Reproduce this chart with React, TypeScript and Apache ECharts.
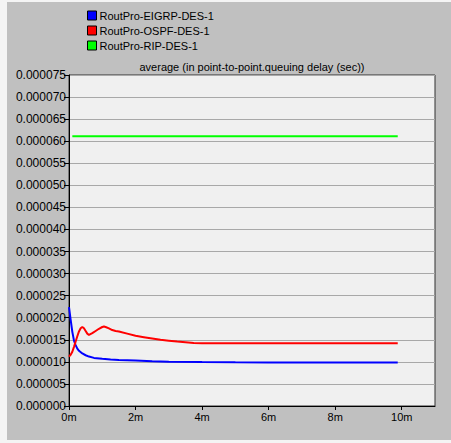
import React, { useEffect, useRef } from "react";
import * as echarts from "echarts";

const seriesNames = ["RoutPro-EIGRP-DES-1", "RoutPro-OSPF-DES-1", "RoutPro-RIP-DES-1"];
const seriesColors = ["#0000ff", "#ff0000", "#00ff00"];
const chartTitle = "average (in point-to-point.queuing delay (sec))";

// time in minutes
const eigrpTimes = [0, 0.05, 0.1, 0.15, 0.2, 0.25, 0.3, 0.4, 0.5, 0.6, 0.75, 1.0, 1.25, 1.5, 2.0, 2.5, 3.0, 4.0, 5.0, 6.0, 7.0, 8.0, 9.0, 9.88];
const eigrpValues = [22.4, 19.5, 16.8, 14.8, 13.8, 13.0, 12.5, 11.9, 11.5, 11.2, 10.9, 10.7, 10.55, 10.45, 10.3, 10.15, 10.05, 9.95, 9.9, 9.88, 9.86, 9.85, 9.84, 9.83];

const ospfTimes = [0, 0.05, 0.1, 0.15, 0.2, 0.25, 0.3, 0.35, 0.4, 0.45, 0.5, 0.55, 0.6, 0.7, 0.8, 0.9, 1.0, 1.05, 1.1, 1.2, 1.3, 1.4, 1.5, 1.75, 2.0, 2.25, 2.5, 2.75, 3.0, 3.25, 3.5, 3.75, 4.0, 5.0, 6.0, 7.0, 8.0, 9.0, 9.88];
const ospfValues = [11.2, 11.6, 12.3, 13.4, 14.6, 15.8, 16.9, 17.6, 17.9, 17.6, 17.0, 16.4, 16.1, 16.5, 17.0, 17.5, 17.9, 18.0, 17.9, 17.6, 17.2, 17.0, 16.9, 16.4, 15.9, 15.6, 15.3, 15.0, 14.8, 14.6, 14.45, 14.3, 14.2, 14.2, 14.2, 14.2, 14.2, 14.2, 14.2];

const ripTimes = [0.1, 2.0, 4.0, 6.0, 8.0, 9.88];
const ripValues = [61.1, 61.1, 61.1, 61.1, 61.1, 61.1];

const yTicks = { min: 0, max: 0.000075, interval: 0.000005 };
const xTicks = { min: 0, max: 11, interval: 2 };
const xTickValues = [0, 2, 4, 6, 8, 10];

const toPairs = (t: number[], v: number[]) => t.map((x, i) => [x, v[i] * 1e-6]);

export default function App() {
  const ref = useRef<HTMLDivElement>(null);
  useEffect(() => {
    document.body.style.margin = "0";
    const chart = echarts.init(ref.current!, null, { renderer: "svg" });
    const font = "Liberation Sans, Arial, sans-serif";
    const data = [toPairs(eigrpTimes, eigrpValues), toPairs(ospfTimes, ospfValues), toPairs(ripTimes, ripValues)];
    chart.setOption({
      animation: false,
      backgroundColor: "#f4f4f4",
      graphic: [
        { type: "rect", left: 7, top: 2, shape: { width: 444, height: 438 }, style: { fill: "#c0c0c0" }, z: -10 },
        {
          type: "text",
          x: 252,
          y: 61,
          style: { text: chartTitle, font: `11px ${font}`, fill: "#000", textAlign: "center" },
        },
      ],
      legend: {
        orient: "vertical",
        left: 82,
        top: 5,
        itemWidth: 9,
        itemHeight: 9,
        itemGap: 4,
        icon: "rect",
        itemStyle: { borderColor: "#000", borderWidth: 1 },
        textStyle: { fontFamily: font, fontSize: 11, color: "#000", padding: [0, 0, 0, -2] },
        data: seriesNames,
      },
      grid: {
        left: 69,
        top: 75,
        width: 366,
        height: 331,
        show: true,
        backgroundColor: "#f0f0f0",
        borderColor: "#303030",
        borderWidth: 1,
      },
      xAxis: {
        type: "value",
        min: xTicks.min,
        max: xTicks.max,
        interval: xTicks.interval,
        axisLine: { show: true, lineStyle: { color: "#000" } },
        axisTick: { show: true, length: 4, lineStyle: { color: "#000" }, customValues: xTickValues },
        axisLabel: {
          fontFamily: font,
          fontSize: 11,
          color: "#000",
          margin: 5,
          customValues: xTickValues,
          formatter: (v: number) => `${v}m`,
        },
        splitLine: { show: false },
      },
      yAxis: {
        type: "value",
        min: yTicks.min,
        max: yTicks.max,
        interval: yTicks.interval,
        axisLine: { show: true, lineStyle: { color: "#000" } },
        axisTick: { show: true, length: 5, lineStyle: { color: "#000" } },
        axisLabel: {
          fontFamily: font,
          fontSize: 12,
          color: "#000",
          margin: 3,
          formatter: (v: number) => v.toFixed(6),
        },
        splitLine: { show: true, lineStyle: { color: "#a8a8a8", width: 1 } },
      },
      series: seriesNames.map((name, i) => ({
        name,
        type: "line",
        data: data[i],
        showSymbol: false,
        symbol: "none",
        color: seriesColors[i],
        lineStyle: { color: seriesColors[i], width: 2 },
      })),
    });
    return () => chart.dispose();
  }, []);
  return (
    <div style={{ position: "absolute", left: 0, top: 0, width: 451, height: 443 }}>
      <div ref={ref} style={{ width: 451, height: 443 }} />
    </div>
  );
}
